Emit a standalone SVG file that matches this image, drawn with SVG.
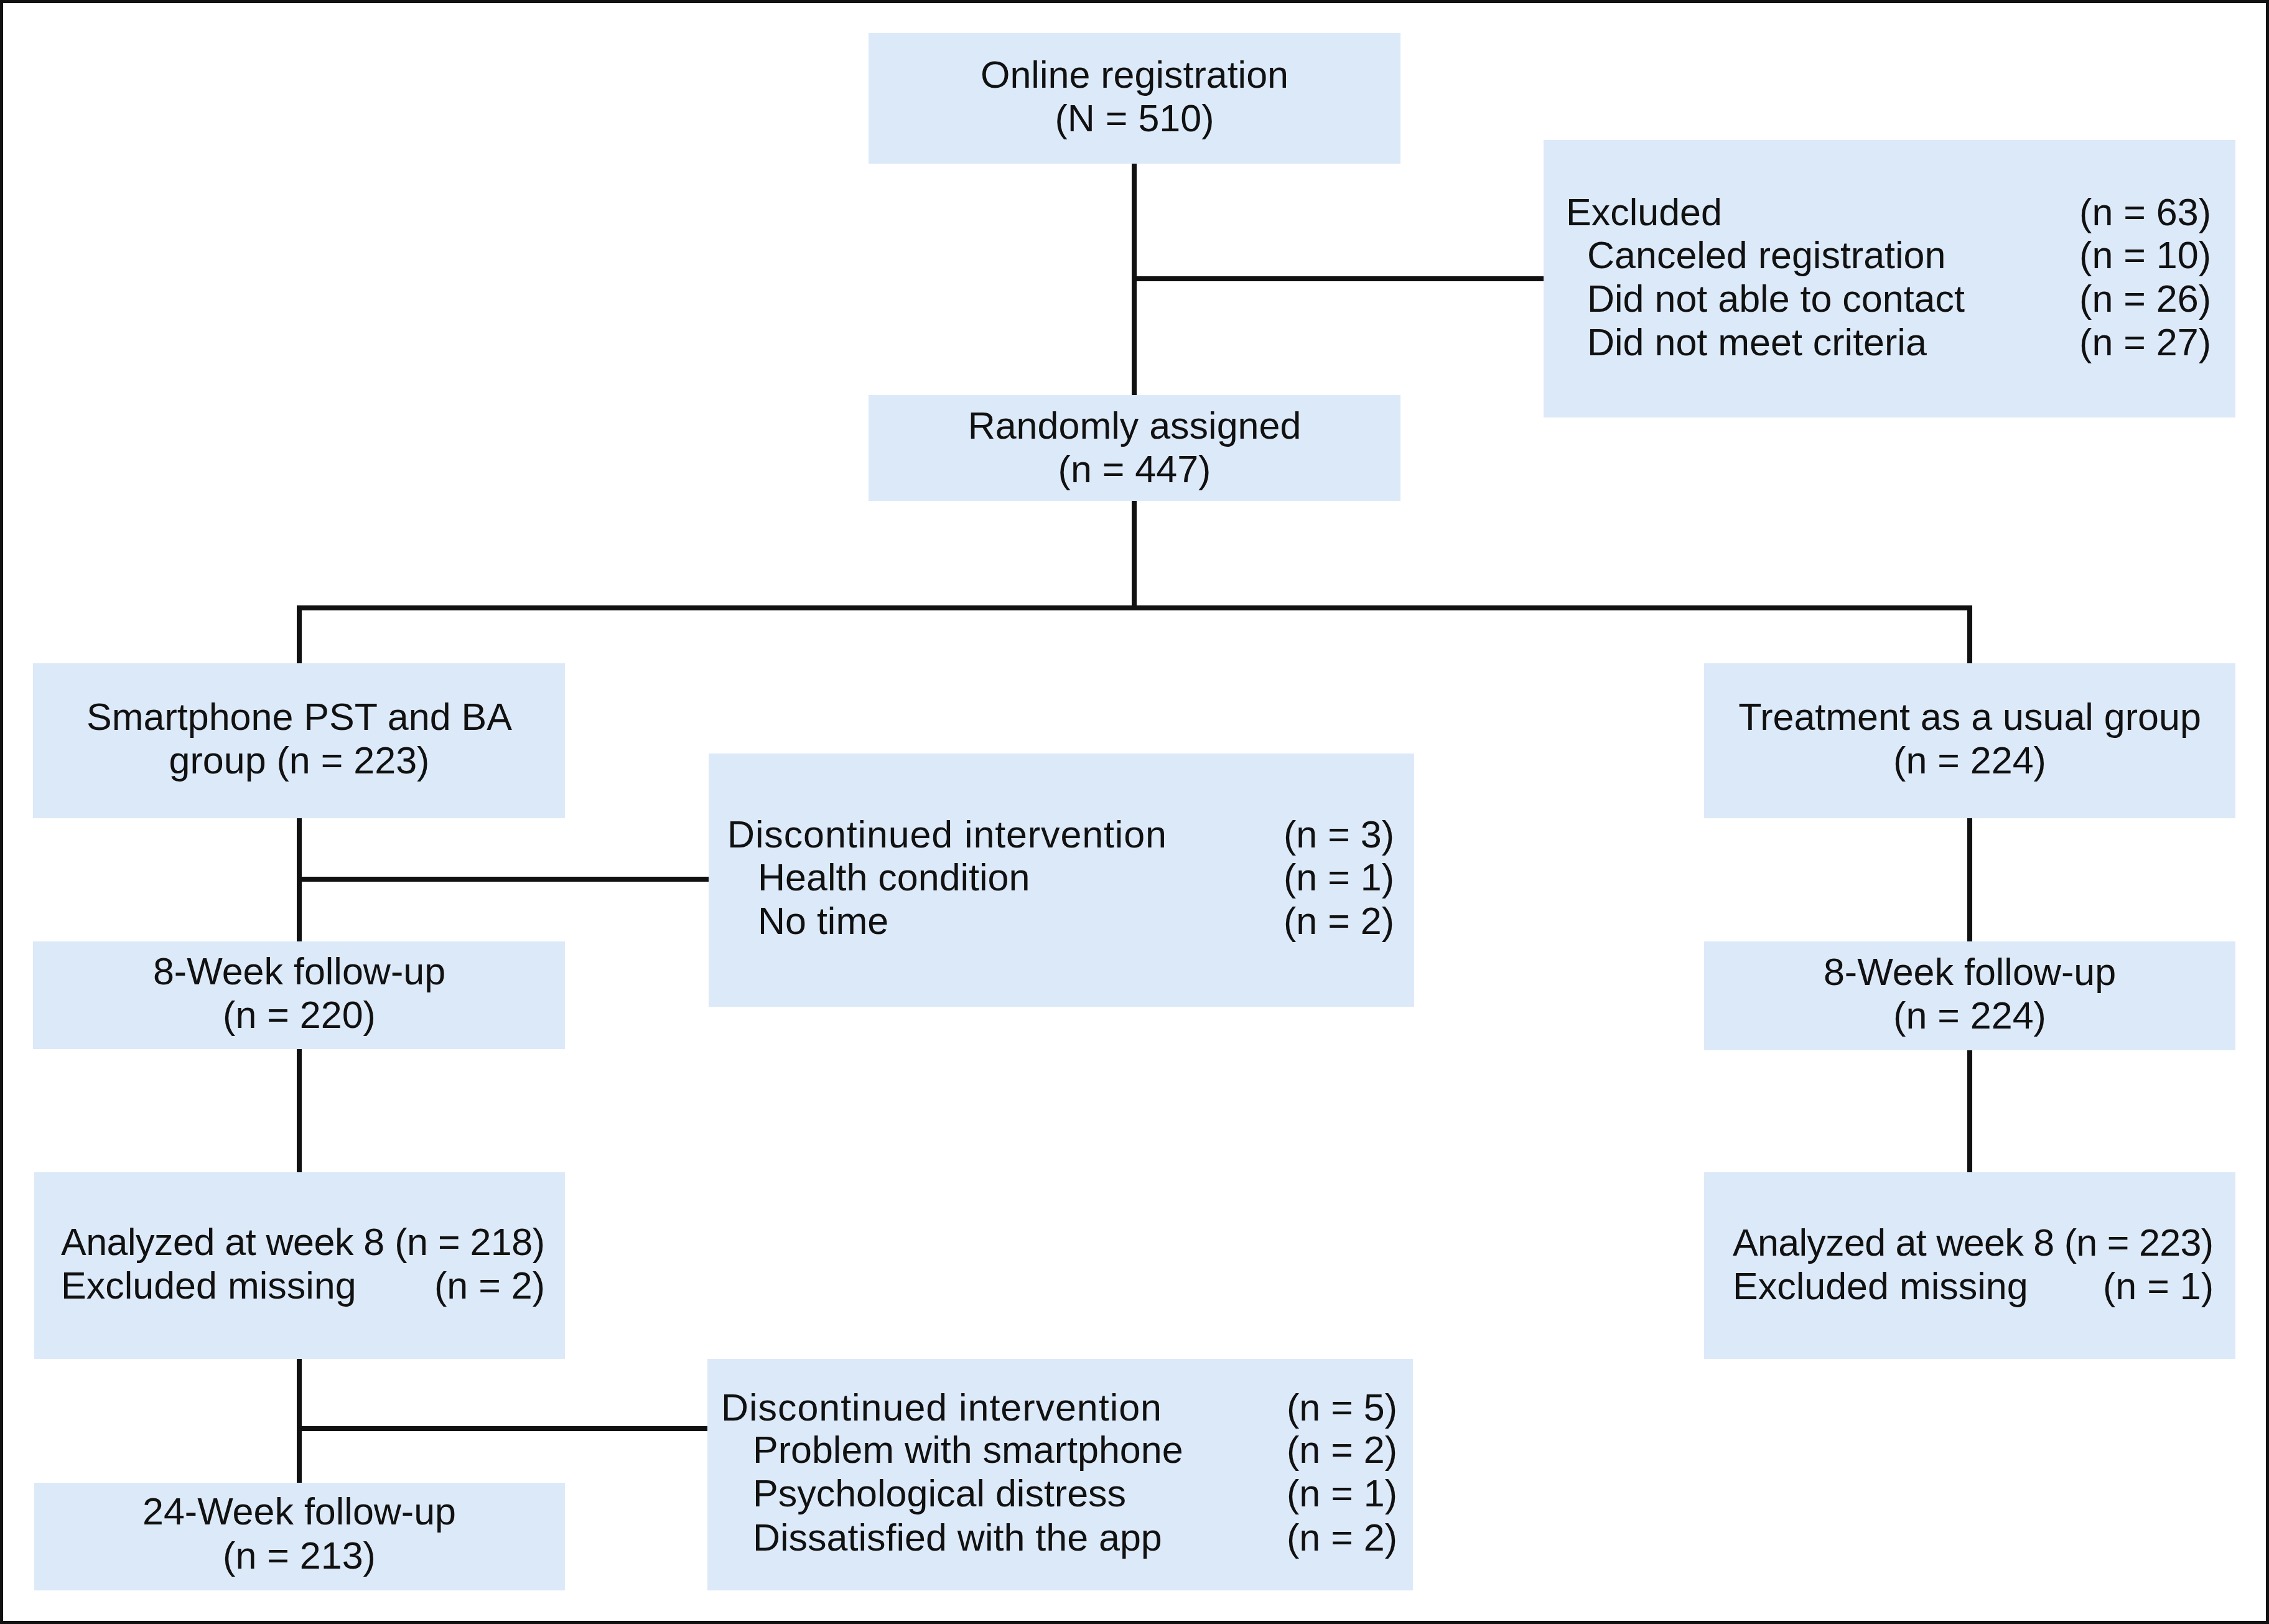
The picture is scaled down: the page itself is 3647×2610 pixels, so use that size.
<svg xmlns="http://www.w3.org/2000/svg" width="3647" height="2610" viewBox="0 0 3647 2610">
<style>
.box{fill:#dce9f8;}
.t{font-family:"Liberation Sans",Arial,Helvetica,sans-serif;font-size:61px;fill:#111;}
.c{text-anchor:middle;}
.e{text-anchor:end;}
.ln{stroke:#111;stroke-width:8;fill:none;stroke-linecap:butt;}
</style>
<rect x="0" y="0" width="3647" height="2610" fill="#ffffff" stroke="#111" stroke-width="10"/>
<g id="connectors">
<line class="ln" x1="1823" y1="263" x2="1823" y2="635"/>
<line class="ln" x1="1823" y1="448" x2="2481" y2="448"/>
<line class="ln" x1="1823" y1="805" x2="1823" y2="977"/>
<line class="ln" x1="477" y1="977" x2="3170" y2="977"/>
<line class="ln" x1="481" y1="977" x2="481" y2="1066"/>
<line class="ln" x1="3166" y1="977" x2="3166" y2="1068"/>
<line class="ln" x1="481" y1="1315" x2="481" y2="1513"/>
<line class="ln" x1="481" y1="1413" x2="1139" y2="1413"/>
<line class="ln" x1="481" y1="1686" x2="481" y2="1884"/>
<line class="ln" x1="481" y1="2184" x2="481" y2="2383"/>
<line class="ln" x1="481" y1="2296" x2="1137" y2="2296"/>
<line class="ln" x1="3166" y1="1314" x2="3166" y2="1513"/>
<line class="ln" x1="3166" y1="1688" x2="3166" y2="1884"/>
</g>
<g id="online-registration">
<rect class="box" x="1396" y="53" width="855" height="210"/>
<text class="t c" x="1823.5" y="141">Online registration</text>
<text class="t c" x="1823.5" y="211">(N = 510)</text>
</g>
<g id="excluded">
<rect class="box" x="2481" y="225" width="1112" height="446"/>
<text class="t" x="2517" y="362">Excluded</text>
<text class="t e" x="3554" y="362">(n = 63)</text>
<text class="t" x="2551" y="431">Canceled registration</text>
<text class="t e" x="3554" y="431">(n = 10)</text>
<text class="t" x="2551" y="501">Did not able to contact</text>
<text class="t e" x="3554" y="501">(n = 26)</text>
<text class="t" x="2551" y="571">Did not meet criteria</text>
<text class="t e" x="3554" y="571">(n = 27)</text>
</g>
<g id="randomly-assigned">
<rect class="box" x="1396" y="635" width="855" height="170"/>
<text class="t c" x="1823.5" y="705">Randomly assigned</text>
<text class="t c" x="1823.5" y="775">(n = 447)</text>
</g>
<g id="smartphone-group">
<rect class="box" x="53" y="1066" width="855" height="249"/>
<text class="t c" x="481" y="1173">Smartphone PST and BA</text>
<text class="t c" x="481" y="1243">group (n = 223)</text>
</g>
<g id="usual-group">
<rect class="box" x="2739" y="1066" width="854" height="249"/>
<text class="t c" x="3166" y="1173">Treatment as a usual group</text>
<text class="t c" x="3166" y="1243">(n = 224)</text>
</g>
<g id="discontinued-1">
<rect class="box" x="1139" y="1211" width="1134" height="407"/>
<text class="t" x="1169" y="1362" textLength="706">Discontinued intervention</text>
<text class="t e" x="2241" y="1362">(n = 3)</text>
<text class="t" x="1218" y="1431">Health condition</text>
<text class="t e" x="2241" y="1431">(n = 1)</text>
<text class="t" x="1218" y="1501">No time</text>
<text class="t e" x="2241" y="1501">(n = 2)</text>
</g>
<g id="followup8-left">
<rect class="box" x="53" y="1513" width="855" height="173"/>
<text class="t c" x="481" y="1582">8-Week follow-up</text>
<text class="t c" x="481" y="1652">(n = 220)</text>
</g>
<g id="followup8-right">
<rect class="box" x="2739" y="1513" width="854" height="175"/>
<text class="t c" x="3166" y="1583">8-Week follow-up</text>
<text class="t c" x="3166" y="1653">(n = 224)</text>
</g>
<g id="analyzed-left">
<rect class="box" x="55" y="1884" width="853" height="300"/>
<text class="t" x="98" y="2017" textLength="778">Analyzed at week 8 (n = 218)</text>
<text class="t" x="98" y="2087">Excluded missing</text>
<text class="t e" x="876" y="2087">(n = 2)</text>
</g>
<g id="analyzed-right">
<rect class="box" x="2739" y="1884" width="854" height="300"/>
<text class="t" x="2785" y="2018" textLength="773">Analyzed at week 8 (n = 223)</text>
<text class="t" x="2785" y="2088">Excluded missing</text>
<text class="t e" x="3558" y="2088">(n = 1)</text>
</g>
<g id="discontinued-2">
<rect class="box" x="1137" y="2184" width="1134" height="372"/>
<text class="t" x="1159" y="2283" textLength="708">Discontinued intervention</text>
<text class="t e" x="2246" y="2283">(n = 5)</text>
<text class="t" x="1210" y="2351">Problem with smartphone</text>
<text class="t e" x="2246" y="2351">(n = 2)</text>
<text class="t" x="1210" y="2421">Psychological distress</text>
<text class="t e" x="2246" y="2421">(n = 1)</text>
<text class="t" x="1210" y="2492">Dissatisfied with the app</text>
<text class="t e" x="2246" y="2492">(n = 2)</text>
</g>
<g id="followup24">
<rect class="box" x="55" y="2383" width="853" height="173"/>
<text class="t c" x="481" y="2450">24-Week follow-up</text>
<text class="t c" x="481" y="2521">(n = 213)</text>
</g>
</svg>
